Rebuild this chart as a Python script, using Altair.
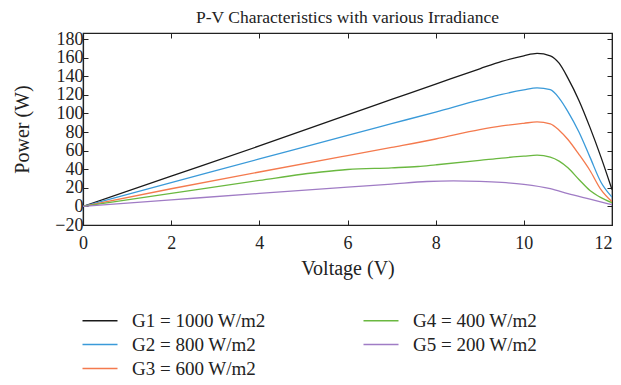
import altair as alt
import pandas as pd

# ---------------- data ----------------
series_names = ["G1 = 1000 W/m2", "G2 = 800 W/m2", "G3 = 600 W/m2",
                "G4 = 400 W/m2", "G5 = 200 W/m2"]
series_colors = ["#1a1a1a", "#3a9ad9", "#f47a4e", "#6ab840", "#a07cc5"]

g1_v = [0, 2, 4, 6, 7, 8, 9, 9.5, 10, 10.3, 10.6, 10.8, 11.0, 11.25, 11.5, 11.75, 12.0]
g1_p = [0, 32.5, 65, 98.5, 115, 131.5, 148, 156, 162, 164.5, 162, 154, 138, 114, 85, 53, 18]

g2_v = [0, 2, 4, 6, 7, 8, 9, 9.5, 10, 10.3, 10.6, 10.8, 11.0, 11.25, 11.5, 11.75, 12.0]
g2_p = [0, 25.5, 51, 76.5, 89, 101.5, 114.5, 120.5, 125.3, 127.4, 125.5, 116.5, 102, 80, 53, 26, 10]

g3_v = [0, 2, 4, 6, 7, 8, 9, 9.5, 10, 10.3, 10.6, 10.8, 11.0, 11.25, 11.5, 11.75, 12.0]
g3_p = [0, 19, 37, 54.7, 63.5, 72.5, 82.5, 86.5, 89.4, 90.9, 88.8, 82, 72, 56, 38.6, 18, 5]

g4_v = [0, 2, 4, 5.4, 6, 7, 7.6, 8, 9, 9.5, 10, 10.3, 10.6, 10.8, 11.0, 11.25, 11.5, 11.75, 12.0]
g4_p = [0, 14, 28, 37, 39.7, 41.5, 42.9, 44.7, 49.4, 52, 54, 55.1, 53, 48.7, 41.5, 29, 17.2, 9.5, 4]

g5_v = [0, 2, 4, 6, 7, 7.8, 8.4, 9, 9.5, 10, 10.6, 11.0, 11.5, 12.0]
g5_p = [0, 7, 14, 20.7, 24, 26.8, 27.5, 27, 25.8, 23.6, 19, 13.8, 7.8, 1.8]

x_ticks = [0, 2, 4, 6, 8, 10, 12]
y_ticks = [-20, 0, 20, 40, 60, 80, 100, 120, 140, 160, 180]

# ---------------- table ----------------
rows = []
for name, vs, ps in zip(series_names,
                        [g1_v, g2_v, g3_v, g4_v, g5_v],
                        [g1_p, g2_p, g3_p, g4_p, g5_p]):
    for v, p in zip(vs, ps):
        rows.append({"Series": name, "V": v, "P": p})
df = pd.DataFrame(rows)

FONT = "Liberation Serif"
inward = {"expr": "-5"}

xscale = alt.Scale(domain=[0, 12], nice=False, zero=False)
yscale = alt.Scale(domain=[-20, 186.5], nice=False, zero=False)

base = alt.Chart(df)

lines = base.mark_line(strokeWidth=1.3, interpolate="monotone", clip=True).encode(
    x=alt.X("V:Q", scale=xscale,
            axis=alt.Axis(title="Voltage (V)", orient="bottom", values=x_ticks,
                          tickSize=inward, labelPadding=14, titleY=43,
                          labelOverlap=False, labelFlush=False,
                          labelAlign={"condition": {"test": "datum.value >= 12",
                                                    "value": "right"},
                                      "value": "center"},
                          titleBaseline="middle")),
    y=alt.Y("P:Q", scale=yscale,
            axis=alt.Axis(title="Power (W)", orient="left", values=y_ticks,
                          tickSize=inward, labelPadding=5, titleX=-61,
                          labelOverlap=False, labelFlush=False,
                          titleBaseline="middle")),
    color=alt.Color("Series:N",
                    scale=alt.Scale(domain=series_names, range=series_colors),
                    legend=alt.Legend(orient="none", legendX=-10, legendY=278,
                                      columns=2, title=None,
                                      symbolType="M0,0H7", symbolSize=100,
                                      symbolStrokeWidth=1.5,
                                      labelFont=FONT, labelFontSize=19,
                                      labelColor="#222222", labelOffset=40,
                                      labelLimit=400,
                                      columnPadding=88, rowPadding=4,
                                      padding=0)),
)

frame = base.mark_line(strokeOpacity=0).encode(
    x=alt.X("V:Q", scale=xscale,
            axis=alt.Axis(orient="top", labels=False, title=None,
                          values=x_ticks, tickSize=inward)),
    y=alt.Y("P:Q", scale=yscale,
            axis=alt.Axis(orient="right", labels=False, title=None,
                          values=y_ticks, tickSize=inward)),
    detail="Series:N",
)

chart = alt.layer(lines, frame).properties(
    width=529, height=192,
    autosize=alt.AutoSizeParams(type="none"),
    padding={"left": 75, "top": 25, "right": 1, "bottom": 152},
    title=alt.Title("P-V Characteristics with various Irradiance",
                    font=FONT, fontSize=17.5, fontWeight="normal",
                    color="#222222", anchor="middle", offset=4),
).configure_axis(
    labelFont=FONT, labelFontSize=18, labelColor="#222222",
    titleFont=FONT, titleFontSize=20, titleFontWeight="normal", titleColor="#222222",
    tickColor="#222222", domainColor="#222222", domainWidth=1.2, tickWidth=1,
    grid=False,
).configure_view(stroke="#222222", strokeWidth=1.2)

chart.save("out.html", embed_options={"renderer": "svg", "actions": False})
